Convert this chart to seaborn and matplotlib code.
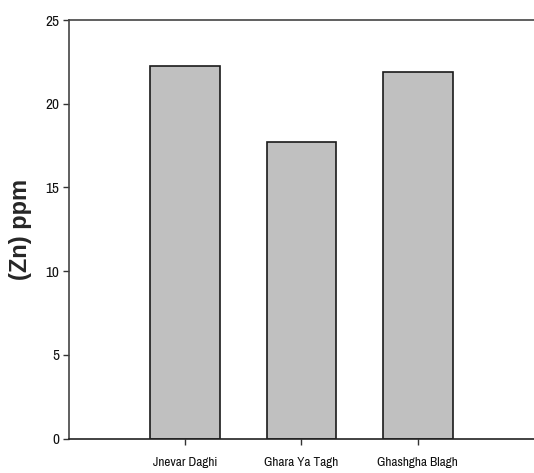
import matplotlib
matplotlib.use("Agg")
import matplotlib.pyplot as plt
import seaborn as sns
import pandas as pd
from matplotlib import font_manager as fm

sites = ["Jnevar Daghi", "Ghara Ya Tagh", "Ghashgha Blagh"]
zn_ppm = [22.25, 17.73, 21.87]
y_ticks = [0, 5, 10, 15, 20, 25]

sns.set_style("white")

# Prefer a narrow sans face for the tick labels, whichever is installed
installed = {f.name for f in fm.fontManager.ttflist}
narrow_candidates = ["Liberation Sans Narrow", "Arial Narrow", "Archivo Narrow",
                     "PT Sans Narrow", "Roboto Condensed", "Open Sans Condensed",
                     "Fira Sans Condensed", "IBM Plex Sans Condensed",
                     "Encode Sans Condensed", "Asap Condensed", "Barlow Semi Condensed"]
narrow = [n for n in narrow_candidates if n in installed]
plt.rcParams["font.family"] = narrow[:1] + ["Liberation Sans", "DejaVu Sans"]

df = pd.DataFrame({"site": sites, "zn": zn_ppm})

fig = plt.figure(figsize=(5.34, 4.73), dpi=100)
ax = fig.add_axes([0.1292, 0.0725, 0.8708, 0.8852])

sns.barplot(data=df, x="site", y="zn", color="#c0c0c0", saturation=1,
            edgecolor="#1a1a1a", linewidth=1.2, width=0.6, ax=ax)

ax.set_xlim(-1, 3)
ax.set_ylim(0, 25)
ax.set_yticks(y_ticks)
ax.set_xlabel("")
ax.set_ylabel("(Zn) ppm", fontsize=17, fontweight="bold",
              family=["Liberation Sans", "DejaVu Sans"])
ax.yaxis.set_label_coords(-0.08, 0.5)

for side in ["left", "top", "bottom"]:
    ax.spines[side].set_visible(True)
    ax.spines[side].set_color("#444444")
    ax.spines[side].set_linewidth(1.2)
ax.spines["right"].set_visible(False)
ax.spines["bottom"].set_color("#222222")

ax.tick_params(axis="both", direction="out", length=4, width=1, color="#333333",
               labelcolor="#111111", bottom=True, left=True)
ax.tick_params(axis="x", pad=9, labelsize=9.5)
ax.tick_params(axis="y", pad=3, labelsize=11)

fig.savefig("out.png", dpi=100)
